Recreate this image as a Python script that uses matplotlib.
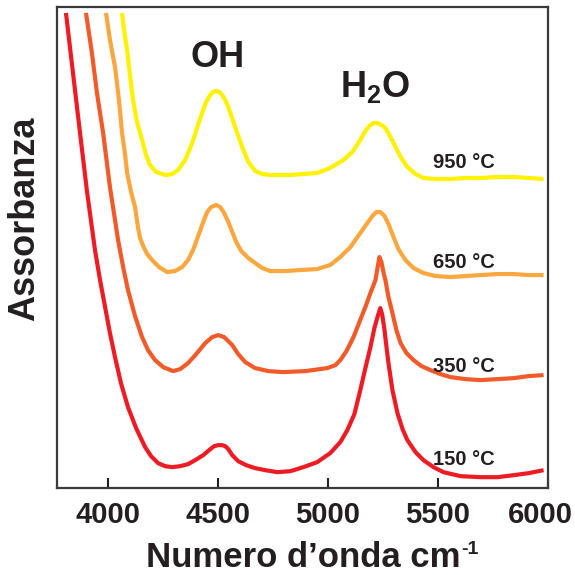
import matplotlib
matplotlib.use("Agg")
import matplotlib.pyplot as plt
from matplotlib.transforms import ScaledTranslation

plt.rcParams["font.family"] = ["Liberation Sans", "DejaVu Sans"]
plt.rcParams["font.weight"] = "bold"
plt.rcParams["mathtext.fontset"] = "custom"
plt.rcParams["mathtext.rm"] = "Liberation Sans:bold"
plt.rcParams["mathtext.bf"] = "Liberation Sans:bold"
plt.rcParams["mathtext.default"] = "rm"

# spettri NIR (assorbanza in unità arbitrarie, curve sfalsate)
wn_150 = [3811, 3843, 3875, 3907, 3943, 3966, 3989, 4011, 4034, 4061, 4093, 4130,
          4171, 4198, 4230, 4262, 4294, 4330, 4366, 4398, 4435, 4467, 4485, 4503,
          4521, 4535, 4549, 4567, 4594, 4630, 4671, 4717, 4771, 4831, 4890, 4953,
          5012, 5058, 5090, 5122, 5149, 5172, 5195, 5213, 5227, 5240, 5249, 5259,
          5268, 5277, 5295, 5318, 5341, 5363, 5400, 5436, 5482, 5527, 5605, 5696,
          5773, 5846, 5914, 5982]
abs_150 = [2.375, 2.075, 1.775, 1.48, 1.19, 1.04, 0.905, 0.775, 0.655, 0.525, 0.405, 0.30,
           0.205, 0.16, 0.125, 0.11, 0.105, 0.11, 0.12, 0.14, 0.165, 0.195, 0.21, 0.215,
           0.215, 0.21, 0.195, 0.165, 0.135, 0.115, 0.10, 0.09, 0.08, 0.085, 0.105, 0.13,
           0.175, 0.23, 0.29, 0.37, 0.49, 0.60, 0.705, 0.80, 0.855, 0.90, 0.865, 0.79,
           0.705, 0.625, 0.49, 0.375, 0.295, 0.24, 0.18, 0.14, 0.105, 0.08, 0.06, 0.055,
           0.055, 0.065, 0.075, 0.09]

wn_350 = [3902, 3929, 3952, 3980, 4011, 4048, 4071, 4093, 4125, 4157, 4184, 4216,
          4253, 4298, 4330, 4366, 4403, 4444, 4476, 4503, 4530, 4567, 4594, 4626,
          4671, 4731, 4799, 4899, 4999, 5036, 5058, 5086, 5118, 5145, 5172, 5195,
          5218, 5227, 5236, 5245, 5254, 5263, 5277, 5295, 5313, 5332, 5359, 5391,
          5427, 5468, 5514, 5559, 5627, 5696, 5773, 5846, 5914, 5982]
abs_350 = [2.375, 2.175, 1.975, 1.775, 1.505, 1.24, 1.105, 0.99, 0.86, 0.755, 0.69, 0.64,
           0.605, 0.585, 0.595, 0.625, 0.67, 0.725, 0.755, 0.765, 0.755, 0.715, 0.67, 0.63,
           0.60, 0.585, 0.58, 0.585, 0.60, 0.615, 0.64, 0.685, 0.755, 0.83, 0.905, 0.975,
           1.04, 1.10, 1.155, 1.13, 1.08, 1.04, 0.955, 0.875, 0.79, 0.725, 0.675, 0.64,
           0.61, 0.59, 0.57, 0.555, 0.545, 0.54, 0.545, 0.55, 0.56, 0.565]

wn_650 = [3993, 4011, 4034, 4052, 4066, 4080, 4089, 4107, 4125, 4139, 4148, 4162,
          4180, 4203, 4234, 4271, 4307, 4339, 4366, 4389, 4412, 4435, 4453, 4471,
          4494, 4512, 4530, 4549, 4567, 4585, 4608, 4640, 4671, 4703, 4740, 4808,
          4876, 4953, 5012, 5058, 5104, 5149, 5181, 5204, 5222, 5240, 5259, 5277,
          5300, 5322, 5354, 5391, 5436, 5491, 5559, 5627, 5696, 5773, 5846, 5914, 5982]
abs_650 = [2.375, 2.24, 2.105, 1.94, 1.775, 1.665, 1.575, 1.48, 1.405, 1.30, 1.25, 1.21,
           1.17, 1.14, 1.105, 1.08, 1.085, 1.105, 1.14, 1.19, 1.26, 1.33, 1.38, 1.405,
           1.415, 1.405, 1.375, 1.33, 1.28, 1.23, 1.185, 1.15, 1.125, 1.10, 1.085, 1.085,
           1.09, 1.095, 1.115, 1.155, 1.205, 1.275, 1.325, 1.36, 1.38, 1.38, 1.36, 1.32,
           1.255, 1.195, 1.14, 1.10, 1.075, 1.06, 1.055, 1.06, 1.065, 1.07, 1.07, 1.065, 1.065]

wn_950 = [4066, 4075, 4089, 4102, 4116, 4134, 4157, 4175, 4193, 4221, 4262, 4294,
          4321, 4353, 4385, 4407, 4430, 4448, 4467, 4480, 4494, 4508, 4521, 4535,
          4549, 4580, 4612, 4640, 4671, 4703, 4740, 4831, 4953, 5012, 5072, 5113,
          5149, 5172, 5190, 5209, 5227, 5245, 5263, 5281, 5300, 5332, 5363, 5400,
          5436, 5491, 5559, 5627, 5696, 5773, 5846, 5914, 5982]
abs_950 = [2.375, 2.29, 2.19, 2.065, 1.94, 1.83, 1.74, 1.665, 1.615, 1.58, 1.565, 1.57,
           1.59, 1.64, 1.725, 1.80, 1.875, 1.93, 1.965, 1.98, 1.985, 1.98, 1.965, 1.94,
           1.905, 1.805, 1.705, 1.63, 1.585, 1.57, 1.565, 1.565, 1.575, 1.60, 1.64, 1.68,
           1.74, 1.785, 1.81, 1.825, 1.825, 1.815, 1.80, 1.765, 1.725, 1.655, 1.605, 1.57,
           1.55, 1.545, 1.545, 1.55, 1.55, 1.555, 1.555, 1.55, 1.545]

temps = ["950 °C", "650 °C", "350 °C", "150 °C"]
temp_label_y = [1.60, 1.10, 0.58, 0.115]
colors = ["#fff200", "#f9a73e", "#f15a29", "#ed1c24"]
xticks = [4000, 4500, 5000, 5500, 6000]

ink = "#231f20"

fig = plt.figure(figsize=(5.75, 5.75), dpi=100)
ax = fig.add_axes([0.099, 0.151, 0.854, 0.837])

series = [(wn_950, abs_950), (wn_650, abs_650), (wn_350, abs_350), (wn_150, abs_150)]
for (x, y), c in zip(series, colors):
    ax.plot(x, y, color=c, lw=3.0, solid_joinstyle="round", solid_capstyle="butt")

for t, ty in zip(temps, temp_label_y):
    ax.text(5620, ty, t, ha="center", va="baseline", fontsize=14.5,
            fontweight="bold", color=ink)

ax.text(4500, 2.105, "OH", ha="center", va="baseline", fontsize=26,
        fontweight="bold", color=ink)
ax.text(5218, 1.955, "H$_2$O", ha="center", va="baseline", fontsize=26,
        fontweight="bold", color=ink)

ax.set_xlim(3770, 6002)
ax.set_ylim(0, 2.405)
ax.set_xticks(xticks)
ax.set_yticks([])
ax.tick_params(axis="x", direction="in", length=7, width=1.5, pad=9,
               labelsize=21, colors=ink)
for lab in ax.get_xticklabels():
    lab.set_fontweight("bold")
# l'ultima etichetta va spostata un po' a sinistra per stare nella figura
last = ax.get_xticklabels()[-1]
last.set_transform(last.get_transform() + ScaledTranslation(-7 / 100, 0, fig.dpi_scale_trans))

for s in ax.spines.values():
    s.set_linewidth(1.6)
    s.set_color("#3a3a3a")

ax.set_xlabel("Numero d’onda cm", fontsize=25, fontweight="bold", color=ink)
ax.xaxis.label.set_va("baseline")
ax.xaxis.set_label_coords(0.502, -0.164)
ax.annotate("-1", xy=(1, 1), xycoords=ax.xaxis.label, xytext=(0.5, 0),
            textcoords="offset points", ha="left", va="top", fontsize=14,
            fontweight="bold", color=ink)

ax.set_ylabel("Assorbanza", fontsize=26, fontweight="bold", color=ink)
ax.yaxis.set_label_coords(-0.03, 0.56)

fig.savefig("out.png", dpi=100)
